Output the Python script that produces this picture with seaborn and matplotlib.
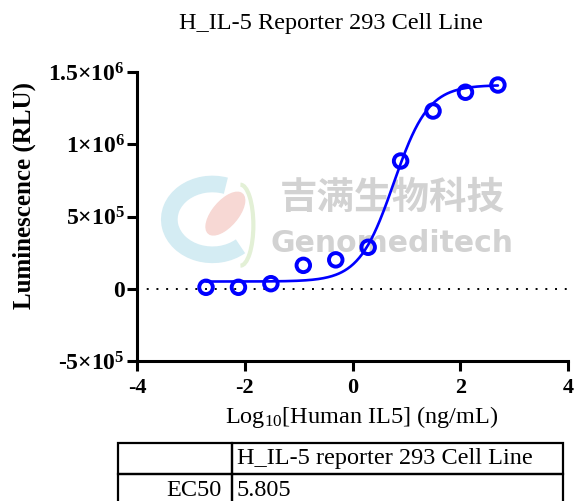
import numpy as np
import pandas as pd
import matplotlib
matplotlib.use('Agg')
from matplotlib import pyplot as plt
from matplotlib.patches import Arc, Ellipse
import seaborn as sns

#======== data ========#
log_conc = [2.699, 2.097, 1.495, 0.893, 0.291, -0.311, -0.913, -1.515, -2.117, -2.719]
rlu = [1.41e6, 1.36e6, 1.23e6, 8.84e5, 2.87e5, 2.0e5, 1.62e5, 3.5e4, 1.0e4, 1.0e4]

# 4PL fit parameters
ec50 = 5.805
fit_bottom = 5.0e4
fit_top = 1.41e6
hill = 1.35

x_ticks = [-4, -2, 0, 2, 4]
y_ticks = [-5e5, 0, 5e5, 1e6, 1.5e6]
y_ticklabels = ['-5×$\\mathbf{10^{5}}$', '0', '5×$\\mathbf{10^{5}}$',
                '1×$\\mathbf{10^{6}}$', '1.5×$\\mathbf{10^{6}}$']

table_header = ['', 'H_IL-5 reporter 293 Cell Line']
table_row = ['EC50', '5.805']

#======== style ========#
sns.set_theme(style='ticks')
plt.rcParams['font.family'] = ['Liberation Serif', 'DejaVu Serif']
plt.rcParams['mathtext.fontset'] = 'custom'
plt.rcParams['mathtext.rm'] = 'Liberation Serif'
plt.rcParams['mathtext.it'] = 'Liberation Serif:italic'
plt.rcParams['mathtext.bf'] = 'Liberation Serif:bold'
for k in ['text.color', 'axes.labelcolor', 'xtick.color', 'ytick.color']:
    plt.rcParams[k] = 'black'

blue = '#0000ff'
W, H = 574, 501

fig = plt.figure(figsize=(W / 100, H / 100), dpi=100)
ax = fig.add_axes([137 / W, 1 - 361 / H, (568 - 137) / W, (361 - 72) / H])

pts = pd.DataFrame({'logc': log_conc, 'rlu': rlu})
xs = np.linspace(min(log_conc), max(log_conc), 300)
curve = pd.DataFrame({'logc': xs,
                      'rlu': fit_bottom + (fit_top - fit_bottom) /
                      (1 + 10 ** ((np.log10(ec50) - xs) * hill))})

#======== watermark (under the data) ========#
ax.add_patch(Arc((0.175, 0.49), 0.20, 0.245, theta1=75, theta2=305, lw=12,
                 color='#d4ecf3', transform=ax.transAxes, zorder=0))
ax.add_patch(Ellipse((0.205, 0.51), 0.065, 0.16, angle=-25, color='#f7d8d4',
                     transform=ax.transAxes, zorder=0))
ax.add_patch(Arc((0.24, 0.47), 0.06, 0.28, theta1=-90, theta2=90, lw=3,
                 color='#e3f0d6', transform=ax.transAxes, zorder=0))
ax.text(0.592, 0.567, '吉满生物科技', transform=ax.transAxes, ha='center', va='center',
        fontsize=27, fontweight='bold', color='#d2d2d2', zorder=0,
        family=['Noto Sans CJK SC', 'DejaVu Sans'])
ax.text(0.592, 0.408, 'Genomeditech', transform=ax.transAxes, ha='center', va='center',
        fontsize=21.5, fontweight='bold', color='#d2d2d2', zorder=0,
        family=['DejaVu Sans'])

ax.axhline(0, color='black', linestyle=(0, (1, 4)), lw=1.4, zorder=1)
sns.lineplot(data=curve, x='logc', y='rlu', color=blue, lw=1.9, ax=ax, zorder=3)
sns.scatterplot(data=pts, x='logc', y='rlu', marker='o', s=95, facecolor='none',
                edgecolor=blue, linewidth=2.8, ax=ax, zorder=4)

ax.set_xlim(-4, 4)
ax.set_ylim(-5e5, 1.5e6)
ax.set_xticks(x_ticks)
ax.set_xticklabels([str(t) if t >= 0 else '-' + str(-t) for t in x_ticks],
                   fontweight='bold', fontsize=16)
ax.set_yticks(y_ticks)
ax.set_yticklabels(y_ticklabels, fontweight='bold', fontsize=17)
ax.tick_params(axis='both', width=2.2, length=7, direction='out', color='black')
ax.tick_params(axis='x', pad=5)
ax.tick_params(axis='y', pad=2)
for s in ['top', 'right']:
    ax.spines[s].set_visible(False)
for s in ['left', 'bottom']:
    ax.spines[s].set_linewidth(2.2)
    ax.spines[s].set_color('black')

ax.set_ylabel('Luminescence (RLU)', fontweight='bold', fontsize=18)
ax.yaxis.set_label_coords(-0.235, 0.574)
ax.set_xlabel('Log$_{10}$[Human IL5] (ng/mL)', fontsize=17.5)
ax.xaxis.set_label_coords(0.52, -0.15)

fig.text(331 / W, 1 - 23 / H, 'H_IL-5 Reporter 293 Cell Line', ha='center', va='center',
         fontsize=17.5)

#======== EC50 table ========#
tb = ax.table(cellText=[table_header, table_row], colWidths=[114, 331],
              bbox=[(118 - 137) / 431, (361 - 507) / 289, (563 - 118) / 431, (507 - 443) / 289])
tb.auto_set_font_size(False)
tb.set_fontsize(17.5)
for (r, c), cell in tb.get_celld().items():
    cell.set_linewidth(1.6)
    cell.set_edgecolor('black')
    cell.set_facecolor('none')
    cell.set_height(31 if r == 0 else 33)
    if c == 0:
        cell.set_text_props(ha='right')
        cell._loc = 'right'
        cell.PAD = 0.09
    else:
        cell.set_text_props(ha='left')
        cell._loc = 'left'
        cell.PAD = 0.015

fig.savefig('out.png', dpi=100)
